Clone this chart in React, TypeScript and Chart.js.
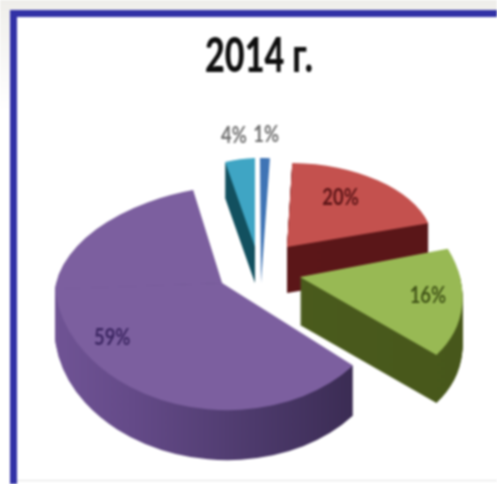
import React, { useEffect, useRef } from "react";
import { Chart, registerables } from "chart.js";

Chart.register(...registerables);

const categories = ["A", "B", "C", "D", "E"];
const values = [1, 20, 16, 59, 4];
const topColors = ["#3f74b5", "#c4514e", "#98b954", "#7c5f9f", "#3fa5c4"];
const labelColors = ["#6e6e6e", "#5a1416", "#3f5216", "#3a2460", "#6e6e6e"];
const titleText = "2014 г.";

// Oblique-view layout of each exploded slice (apex, depth, and affine projection).
const apexes = [[261, 283], [287, 247], [300, 277], [222, 283], [255, 247]];
const depths = [0, 46, 48, 50, 36];
const upperMatrix = [
  [158, 0, 1, 125],
  [147, -3, 4, 84],
  [160, 0, 29, 114],
  [167, -6, -13, 97.5],
  [120, -5, 0, 89],
];
const lowerMatrix = [
  [158, 0, 1, 125],
  [147, -3, 4, 84],
  [160, 0, 29, 114],
  [167, -6, 13.6, 127],
  [120, -5, 0, 89],
];
const labelAnchors = [[0.04, -1.19], [0.38, -0.58], [0.77, 0.16], [-0.69, 0.4], [-0.175, -1.26]];
const drawOrder = [4, 0, 1, 2, 3];

const wallFill = (ctx: CanvasRenderingContext2D, i: number, arc: any) => {
  const R = arc.outerRadius;
  const g = ctx.createLinearGradient(arc.x - R, 0, arc.x + R, 0);
  const stops: string[][] = [
    ["#2a5a90", "#2a5a90"],
    ["#5c1719", "#5a1618"],
    ["#4d5e1e", "#47571b"],
    ["#6f5394", "#332649"],
    ["#12505f", "#12505f"],
  ];
  g.addColorStop(0, stops[i][0]);
  if (i === 3) {
    g.addColorStop(0.2, "#644a88");
    g.addColorStop(0.55, "#4d3a6c");
  }
  g.addColorStop(1, stops[i][1]);
  return g;
};

const narrowText = (
  ctx: CanvasRenderingContext2D,
  text: string,
  x: number,
  y: number,
  squeeze: number
) => {
  ctx.save();
  ctx.translate(x, y);
  ctx.scale(squeeze, 1);
  ctx.fillText(text, 0, 0);
  ctx.restore();
};

const obliquePie = {
  id: "obliquePie",
  beforeDraw(chart: any) {
    const ctx = chart.ctx;
    const { width, height } = chart;
    ctx.save();
    const bg = ctx.createLinearGradient(0, 0, 0, 110);
    bg.addColorStop(0, "#efeeea");
    bg.addColorStop(1, "#ffffff");
    ctx.fillStyle = bg;
    ctx.fillRect(0, 0, width, height);
    ctx.fillStyle = "#3232a6";
    ctx.fillRect(10, 10, width - 10, 7);
    ctx.fillRect(10, 10, 7, height - 10);
    ctx.fillStyle = "#ffffff";
    ctx.fillRect(17, 17, width - 17, height - 17);
    ctx.fillStyle = "#e2e2e2";
    ctx.fillRect(17, 480, width - 17, 1);
    ctx.restore();
  },
  beforeDatasetDraw() {
    return false;
  },
  afterDatasetsDraw(chart: any) {
    const ctx: CanvasRenderingContext2D = chart.ctx;
    const arcs = chart.getDatasetMeta(0).data;
    const paint = (i: number, dy: number, fill: any) => {
      const arc = arcs[i];
      const R = arc.outerRadius;
      const saved = arc.options;
      if (fill) arc.options = { ...saved, backgroundColor: fill };
      [upperMatrix[i], lowerMatrix[i]].forEach((m, half) => {
        ctx.save();
        ctx.translate(apexes[i][0], apexes[i][1] + dy);
        ctx.transform(m[0] / R, m[1] / R, m[2] / R, m[3] / R, 0, 0);
        ctx.translate(-arc.x, -arc.y);
        ctx.beginPath();
        if (half === 0) ctx.rect(arc.x - 2 * R, arc.y - 2 * R, 4 * R, 2 * R + 0.6);
        else ctx.rect(arc.x - 2 * R, arc.y, 4 * R, 2 * R);
        ctx.clip();
        arc.draw(ctx);
        ctx.restore();
      });
      arc.options = saved;
    };
    drawOrder.forEach((i) => {
      const fill = depths[i] ? wallFill(ctx, i, arcs[i]) : null;
      for (let d = depths[i]; d >= 1; d--) paint(i, d, fill);
      paint(i, 0, null);
    });
    ctx.save();
    ctx.textAlign = "center";
    ctx.textBaseline = "middle";
    ctx.font = "900 48px Lato, sans-serif";
    ctx.fillStyle = "#0e0e0e";
    narrowText(ctx, titleText, 259, 57, 108 / ctx.measureText(titleText).width);
    ctx.font = "bold 23px Lato, sans-serif";
    values.forEach((v, i) => {
      const [u, w] = labelAnchors[i];
      const m = w < 0 ? upperMatrix[i] : lowerMatrix[i];
      ctx.fillStyle = labelColors[i];
      narrowText(
        ctx,
        `${v}%`,
        apexes[i][0] + m[0] * u + m[2] * w,
        apexes[i][1] + m[1] * u + m[3] * w,
        0.8
      );
    });
    ctx.restore();
  },
};

export default function App() {
  const ref = useRef<HTMLCanvasElement>(null);
  useEffect(() => {
    document.body.style.margin = "0";
    document.body.style.overflow = "hidden";
    const chart = new Chart(ref.current as HTMLCanvasElement, {
      type: "pie",
      data: {
        labels: categories,
        datasets: [{ data: values, backgroundColor: topColors, borderWidth: 0, hoverOffset: 0 }],
      },
      options: {
        animation: false,
        responsive: false,
        events: [],
        plugins: {
          legend: { display: false },
          tooltip: { enabled: false },
        },
      },
      plugins: [obliquePie],
    } as any);
    return () => chart.destroy();
  }, []);
  return (
    <canvas
      ref={ref}
      width={497}
      height={484}
      style={{ display: "block", width: 497, height: 484, filter: "blur(0.8px)" }}
    />
  );
}
